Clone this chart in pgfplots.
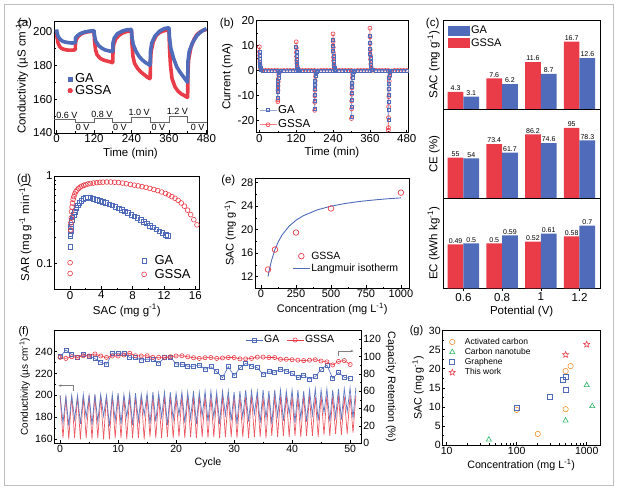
\documentclass[border=0pt]{standalone}
\usepackage{fontspec}
\setmainfont{Liberation Sans}
\usepackage{pgfplots}
\pgfplotsset{compat=1.18}
\usetikzlibrary{plotmarks,arrows.meta}
\definecolor{cblue}{RGB}{79,107,186}
\definecolor{cred}{RGB}{233,60,72}
\definecolor{lblue}{RGB}{150,170,220}
\definecolor{lred}{RGB}{245,130,135}
\definecolor{corange}{RGB}{245,145,50}
\definecolor{cgreen}{RGB}{40,180,100}
\definecolor{bordergray}{RGB}{190,190,190}
\newcommand{\fs}[1]{\fontsize{#1}{#1}\selectfont}
\pgfdeclareplotmark{ostar}{%
  \pgfpathmoveto{\pgfpointpolar{90}{\pgfplotmarksize}}%
  \pgfpathlineto{\pgfpointpolar{126}{0.45\pgfplotmarksize}}%
  \pgfpathlineto{\pgfpointpolar{162}{\pgfplotmarksize}}%
  \pgfpathlineto{\pgfpointpolar{198}{0.45\pgfplotmarksize}}%
  \pgfpathlineto{\pgfpointpolar{234}{\pgfplotmarksize}}%
  \pgfpathlineto{\pgfpointpolar{270}{0.45\pgfplotmarksize}}%
  \pgfpathlineto{\pgfpointpolar{306}{\pgfplotmarksize}}%
  \pgfpathlineto{\pgfpointpolar{342}{0.45\pgfplotmarksize}}%
  \pgfpathlineto{\pgfpointpolar{18}{\pgfplotmarksize}}%
  \pgfpathlineto{\pgfpointpolar{54}{0.45\pgfplotmarksize}}%
  \pgfpathclose\pgfusepathqstroke}
\pgfplotsset{
  every axis/.append style={
    scale only axis, anchor=north west, tick align=inside,
    major tick length=3pt, minor tick length=1.6pt,
    tick label style={font=\fs{11.5}, inner sep=1.5pt},
    label style={font=\fs{11.5}},
    /pgf/number format/assume math mode=true,
    /pgf/number format/1000 sep={},
    xtick pos=bottom, ytick pos=left,
    axis line style={line width=0.7pt},
    every tick/.style={black, line width=0.6pt},
    legend cell align=left,
    legend style={draw=none, fill=none, inner sep=0pt, outer sep=0pt, nodes={inner sep=1pt}},
  },
}
\begin{document}
\begin{tikzpicture}[x=1pt,y=1pt]
\useasboundingbox (0,0) rectangle (619,494);
\draw[bordergray, line width=0.8pt] (4,9) rectangle (613,490);
% panel letters
\node[font=\fs{11.5}] at (25,470.7) {(a)};
\node[font=\fs{11.5}] at (227,470.7) {(b)};
\node[font=\fs{11.5}] at (432.7,470.5) {(c)};
\node[font=\fs{11.5}] at (24.2,314) {(d)};
\node[font=\fs{11.5}] at (228.3,313.5) {(e)};
\node[font=\fs{11}] at (23.7,162.7) {(f)};
\node[font=\fs{11}] at (416.5,163) {(g)};

% ---------------- (a)
\begin{axis}[at={(54pt,473pt)}, width=153pt, height=112pt,
  xmin=-8, xmax=482, ymin=140, ymax=206,
  xtick={0,120,240,360,480}, ytick={140,160,180,200},
  minor x tick num=1, minor y tick num=1,
  xlabel={Time (min)}, ylabel={Conductivity (µS cm\textsuperscript{-1})},
  legend style={at={(rel axis cs:0.09,0.43)}, anchor=west, font=\fs{13}, row sep=-1pt,
    /tikz/every odd column/.append style={column sep=1.5pt}}]
\addlegendimage{only marks, mark=square*, cblue, mark size=2.3pt}
\addlegendentry{GA}
\addlegendimage{only marks, mark=*, cred, mark size=2.4pt}
\addlegendentry{GSSA}
\addplot[gray!80!black, line width=0.7pt, forget plot] coordinates {(-8,147.8)(60,147.8)(60,146)(120,146)(120,148.4)(180,148.4)(180,146)(240,146)(240,149)(300,149)(300,146)(360,146)(360,149.6)(420,149.6)(420,146)(482,146)};
\addplot[cred, line width=3.6pt, forget plot, line join=round] coordinates {
(0,200)(2,196)(5,193)(10,191)(15,190)(20,189.5)(30,189)(40,188.8)(50,188.8)(59,189)
(60,189)(61,193)(63,195)(70,197)(80,198.5)(90,199.2)(100,199.6)(110,199.8)(119,200)
(120,200)(122,194)(125,189)(130,186)(140,184)(150,183)(160,182.5)(170,182)(179,181.5)
(180,181.5)(181,188)(183,192)(190,195.5)(200,197.5)(210,198.8)(220,199.5)(230,200)(239,200.2)
(240,200.2)(242,192)(245,185)(250,181)(260,178)(270,176)(280,174.5)(290,173)(299,172)
(300,172)(301,182)(303,188)(310,194)(320,197.5)(330,199.2)(340,200)(350,200.5)(359,201)
(360,201)(362,190)(365,180)(370,172)(380,167)(390,164.5)(400,163)(410,162)(419,161)
(420,161)(421,175)(423,183)(430,190)(440,195)(450,198)(460,199.5)(470,200.5)(480,201)};
\addplot[cblue, line width=3.6pt, forget plot, line join=round] coordinates {
(0,201)(2,199)(5,197)(10,195.5)(20,194)(30,193.5)(40,193.2)(50,193)(59,193.2)
(60,193.5)(61,196)(65,197)(75,198.5)(90,199.5)(105,200)(119,200.3)
(120,200.3)(122,197)(126,194)(135,191.5)(145,190)(155,189)(165,188.5)(179,188)
(180,188)(181,193)(185,196)(195,198.5)(210,200)(225,200.8)(239,201)
(240,201)(242,196)(246,192)(255,188)(265,185)(275,183)(285,181.5)(299,180)
(300,180)(301,188)(305,193)(315,197)(330,200)(345,201.5)(359,202)
(360,202)(362,196)(366,190)(375,184)(385,179)(395,176)(405,173.5)(419,170)
(420,170)(421,182)(425,188)(435,193)(450,197.5)(465,200)(480,201.5)};
\node[font=\fs{9}] at (axis cs:33,150.6) {0.6 V};
\node[font=\fs{9}] at (axis cs:84,143.4) {0 V};
\node[font=\fs{9}] at (axis cs:145,151.2) {0.8 V};
\node[font=\fs{9}] at (axis cs:203,143.4) {0 V};
\node[font=\fs{9}] at (axis cs:265,151.9) {1.0 V};
\node[font=\fs{9}] at (axis cs:326,143.4) {0 V};
\node[font=\fs{9}] at (axis cs:387,152.5) {1.2 V};
\node[font=\fs{9}] at (axis cs:452,143.4) {0 V};
\end{axis}

% ---------------- (b)
\begin{axis}[at={(256pt,473.3pt)}, width=152pt, height=112pt,
  xmin=-11, xmax=484, ymin=-25, ymax=20,
  xtick={0,120,240,360,480}, ytick={-20,-10,0,10,20},
  minor x tick num=1, minor y tick num=1,
  xlabel={Time (min)}, ylabel={Current (mA)}, reverse legend,
  legend style={at={(rel axis cs:0.02,0.136)}, anchor=west, font=\fs{11.5}, row sep=3pt}]
\addplot[lred, line width=0.9pt, mark=o, mark size=2pt, mark options={cred, line width=0.6pt}] coordinates {
(0,9.5)(0.3,7.5)(0.6,6)(1,4.6)(1.5,3.4)(2,2.5)(3,1.4)(4,0.8)(6,0.3)(10,0.05)(20,0)(30,0)(40,0)(50,0)(59.5,0)
(60,-12.5)(60.3,-11.8)(60.6,-8)(61,-6.2)(61.5,-4.5)(62,-3.3)(63,-1.8)(64,-1)(66,-0.4)(70,-0.07)(80,0)(90,0)(100,0)(110,0)(119.5,0)
(120,11.5)(120.3,9.1)(120.6,7.3)(121,5.6)(121.5,4.1)(122,3)(123,1.7)(124,1)(126,0.4)(130,0.06)(140,0)(150,0)(160,0)(170,0)(179.5,0)
(180,-16)(180.3,-12.8)(180.6,-10.2)(181,-7.9)(181.5,-5.8)(182,-4.2)(183,-2.4)(184,-1.3)(186,-0.5)(190,-0.08)(200,0)(210,0)(220,0)(230,0)(239.5,0)
(240,14.7)(240.3,11.6)(240.6,9.3)(241,7.2)(241.5,5.3)(242,3.9)(243,2.2)(244,1.2)(246,0.45)(250,0.07)(260,0)(270,0)(280,0)(290,0)(299.5,0)
(300,-19.3)(300.3,-15.4)(300.6,-12.3)(301,-9.5)(301.5,-7)(302,-5.1)(303,-2.9)(304,-1.6)(306,-0.6)(310,-0.1)(320,0)(330,0)(340,0)(350,0)(359.5,0)
(360,17)(360.3,13.5)(360.6,10.8)(361,8.3)(361.5,6.1)(362,4.5)(363,2.6)(364,1.4)(366,0.5)(370,0.08)(380,0)(390,0)(400,0)(410,0)(419.5,0)
(420,-24)(420.3,-23)(420.6,-19)(421,-14.5)(421.5,-10.5)(422,-7.5)(423,-4.3)(424,-2.4)(426,-0.9)(430,-0.15)(440,0)(450,0)(460,0)(470,0)(480,0)};
\addlegendentry{GSSA}
\addplot[lblue, line width=1.1pt, mark=square, mark size=1.5pt, mark options={cblue, line width=0.6pt}] coordinates {
(0,7.5)(0.3,5.9)(0.6,4.7)(1,3.6)(1.5,2.7)(2,2)(3,1.1)(4,0.6)(6,0.2)(10,0.04)(20,0)(30,0)(40,0)(50,0)(59.5,0)
(60,-11)(60.3,-8.7)(60.6,-6.9)(61,-5.3)(61.5,-4)(62,-2.9)(63,-1.7)(64,-0.9)(66,-0.3)(70,-0.05)(80,0)(90,0)(100,0)(110,0)(119.5,0)
(120,9.5)(120.3,7.5)(120.6,6)(121,4.6)(121.5,3.4)(122,2.5)(123,1.4)(124,0.8)(126,0.3)(130,0.05)(140,0)(150,0)(160,0)(170,0)(179.5,0)
(180,-15.5)(180.3,-12.2)(180.6,-9.8)(181,-7.4)(181.5,-5.6)(182,-4)(183,-2.3)(184,-1.2)(186,-0.5)(190,-0.08)(200,0)(210,0)(220,0)(230,0)(239.5,0)
(240,12.5)(240.3,9.9)(240.6,7.9)(241,6)(241.5,4.5)(242,3.3)(243,1.9)(244,1)(246,0.4)(250,0.06)(260,0)(270,0)(280,0)(290,0)(299.5,0)
(300,-18.5)(300.3,-14.6)(300.6,-11.7)(301,-8.9)(301.5,-6.7)(302,-4.8)(303,-2.8)(304,-1.5)(306,-0.6)(310,-0.09)(320,0)(330,0)(340,0)(350,0)(359.5,0)
(360,14)(360.3,11.1)(360.6,8.8)(361,6.7)(361.5,5)(362,3.6)(363,2.1)(364,1.1)(366,0.4)(370,0.07)(380,0)(390,0)(400,0)(410,0)(419.5,0)
(420,-20)(420.3,-15.8)(420.6,-12.6)(421,-9.6)(421.5,-7.2)(422,-5.2)(423,-3)(424,-1.6)(426,-0.6)(430,-0.1)(440,0)(450,0)(460,0)(470,0)(480,0)};
\addlegendentry{GA}
\end{axis}

% ---------------- (c) top
\begin{axis}[at={(443.3pt,474pt)}, width=156.7pt, height=89.3pt,
  xmin=-0.52, xmax=3.53, ymin=0, ymax=22, xtick=\empty, ytick=\empty,
  ylabel={SAC (mg g\textsuperscript{-1})},
  ybar=0pt, bar width=15.7pt,
  legend image code/.code={\fill[#1] (0pt,-5pt) rectangle (22pt,5pt);},
  nodes near coords, nodes near coords style={font=\fs{7}, inner sep=1pt, black},
  reverse legend,
  legend style={at={(rel axis cs:0.03,0.808)}, anchor=west, font=\fs{11}, row sep=1.5pt}]
\addplot[fill=cred, draw=none] coordinates {(0,4.3)(1,7.6)(2,11.6)(3,16.7)};
\addlegendentry{GSSA}
\addplot[fill=cblue, draw=none] coordinates {(0,3.1)(1,6.2)(2,8.7)(3,12.6)};
\addlegendentry{GA}
\end{axis}
% (c) middle
\begin{axis}[at={(443.3pt,384.7pt)}, width=156.7pt, height=89.4pt,
  xmin=-0.52, xmax=3.53, ymin=0, ymax=120, xtick=\empty, ytick=\empty,
  ylabel={CE (\%)},
  ybar=0pt, bar width=15.7pt,
  nodes near coords, nodes near coords style={font=\fs{7}, inner sep=1pt, black}]
\addplot[fill=cred, draw=none] coordinates {(0,55)(1,73.4)(2,86.2)(3,95)};
\addplot[fill=cblue, draw=none] coordinates {(0,54)(1,61.7)(2,74.6)(3,78.3)};
\end{axis}
% (c) bottom
\begin{axis}[at={(443.3pt,295.3pt)}, width=156.7pt, height=89.6pt,
  xmin=-0.52, xmax=3.53, ymin=0, ymax=1, xtick={0,1,2,3}, xticklabels={0.6,0.8,1,1.2}, ytick=\empty,
  xlabel={Potential (V)}, ylabel={EC (kWh kg\textsuperscript{-1})},
  ybar=0pt, bar width=15.7pt,
  nodes near coords, nodes near coords style={font=\fs{7}, inner sep=1pt, black}]
\addplot[fill=cred, draw=none] coordinates {(0,0.49)(1,0.5)(2,0.52)(3,0.58)};
\addplot[fill=cblue, draw=none] coordinates {(0,0.5)(1,0.59)(2,0.61)(3,0.7)};
\end{axis}

% ---------------- (d)
\begin{axis}[at={(54.3pt,318pt)}, width=145pt, height=113.3pt,
  xmin=-2, xmax=16.5, ymode=log, ymin=0.05, ymax=1,
  xtick={0,4,8,12,16}, minor x tick num=1, ytick={0.1,1}, yticklabels={0.1,1},
  xlabel={SAC (mg g\textsuperscript{-1})}, ylabel={SAR (mg g\textsuperscript{-1} min\textsuperscript{-1})},
  legend style={at={(rel axis cs:0.603,0.192)}, anchor=west, font=\fs{13}, row sep=1pt,
    /tikz/every odd column/.append style={column sep=7pt}}]
\addplot[only marks, mark=square, mark size=2.3pt, cblue, mark options={line width=0.6pt}] coordinates {
(0.02,0.155)(0.03,0.205)(0.05,0.215)(0.07,0.235)(0.1,0.26)(0.15,0.28)(0.2,0.31)(0.3,0.335)(0.45,0.36)(0.6,0.39)(0.8,0.43)(1.0,0.46)(1.2,0.49)(1.45,0.52)(1.7,0.545)(2.0,0.565)(2.3,0.57)(2.6,0.565)(3.0,0.55)(3.4,0.535)(3.8,0.52)(4.2,0.505)(4.6,0.49)(5.0,0.475)(5.4,0.46)(5.8,0.443)(6.2,0.425)(6.6,0.408)(7.0,0.392)(7.4,0.376)(7.8,0.36)(8.2,0.345)(8.6,0.33)(9.0,0.315)(9.4,0.30)(9.8,0.285)(10.2,0.27)(10.6,0.257)(11.0,0.244)(11.4,0.232)(11.8,0.222)(12.2,0.212)(12.5,0.205)};
\addlegendentry{GA}
\addplot[only marks, mark=o, mark size=2.4pt, cred, mark options={line width=0.6pt}] coordinates {
(0.02,0.076)(0.02,0.101)(0.08,0.24)(0.12,0.29)(0.16,0.33)(0.2,0.39)(0.26,0.44)(0.32,0.49)(0.4,0.54)(0.5,0.58)(0.6,0.62)(0.75,0.66)(0.9,0.69)(1.1,0.72)(1.3,0.745)(1.5,0.765)(1.75,0.78)(2.0,0.795)(2.3,0.81)(2.6,0.82)(3.0,0.83)(3.4,0.838)(3.8,0.845)(4.2,0.85)(4.7,0.853)(5.2,0.852)(5.7,0.848)(6.2,0.84)(6.7,0.83)(7.2,0.815)(7.7,0.80)(8.2,0.785)(8.7,0.77)(9.2,0.755)(9.7,0.74)(10.2,0.72)(10.7,0.70)(11.2,0.68)(11.7,0.655)(12.2,0.63)(12.6,0.605)(13.0,0.58)(13.4,0.555)(13.8,0.525)(14.2,0.49)(14.6,0.45)(15.0,0.405)(15.4,0.36)(15.8,0.315)(16.2,0.275)(16.6,0.25)};
\addlegendentry{GSSA}
\end{axis}

% ---------------- (e)
\begin{axis}[at={(255pt,315.7pt)}, width=154.3pt, height=110pt,
  xmin=-43, xmax=1060, ymin=10, ymax=28.75,
  xtick={0,250,500,750,1000}, ytick={12,16,20,24,28},
  minor x tick num=1, minor y tick num=1,
  tick label style={font=\fs{11}}, label style={font=\fs{11}},
  xlabel={Concentration (mg L\textsuperscript{-1})}, ylabel={SAC (mg g\textsuperscript{-1})},
  legend style={at={(rel axis cs:0.242,0.237)}, anchor=west, font=\fs{10.5}, row sep=1pt}]
\addplot[only marks, mark=o, mark size=2.8pt, cred, mark options={line width=0.7pt}] coordinates {(50,13.2)(100,16.6)(250,19.5)(500,23.6)(1000,26.3)};
\addlegendentry{GSSA}
\addplot[cblue, line width=0.9pt] coordinates {(50,12.0)(60,13.22)(75,14.73)(100,16.62)(125,18.0)(150,19.06)(200,20.57)(250,21.6)(300,22.34)(400,23.35)(500,24.0)(600,24.45)(700,24.79)(800,25.04)(900,25.25)(1000,25.41)};
\addlegendentry{Langmuir isotherm}
\end{axis}

% ---------------- (f) left
\begin{axis}[at={(54.3pt,163.3pt)}, width=307.4pt, height=112.6pt,
  xmin=-1, xmax=52, ymin=156.3, ymax=259,
  xtick={0,10,20,30,40,50}, ytick={160,180,200,220,240},
  minor x tick num=1, minor y tick num=1,
  tick label style={font=\fs{10.5}}, xlabel style={font=\fs{10.7}}, ylabel style={font=\fs{10}},
  xlabel={Cycle}, ylabel={Conductivity (µs cm\textsuperscript{-1})}]
\addplot[cred!85, line width=0.7pt] coordinates {
(0,200)(0.5,161)(1,199)(1.5,160)(2,200)(2.5,161)(3,200)(3.5,160)(4,199)(4.5,161)(5,200)(5.5,160)(6,200)(6.5,161)(7,199)(7.5,160)(8,200)(8.5,160)(9,200)(9.5,161)(10,200)(10.5,161)(11,199)(11.5,160)(12,200)(12.5,161)(13,200)(13.5,161)(14,199)(14.5,160)(15,200)(15.5,162)(16,200)(16.5,161)(17,199)(17.5,161)(18,200)(18.5,162)(19,200)(19.5,161)(20,199)(20.5,162)(21,200)(21.5,161)(22,200)(22.5,162)(23,199)(23.5,161)(24,200)(24.5,162)(25,200)(25.5,161)(26,199)(26.5,162)(27,200)(27.5,161)(28,200)(28.5,162)(29,199)(29.5,162)(30,200)(30.5,161)(31,200)(31.5,162)(32,199)(32.5,161)(33,200)(33.5,162)(34,200)(34.5,162)(35,199)(35.5,161)(36,200)(36.5,163)(37,200)(37.5,162)(38,199)(38.5,163)(39,200)(39.5,162)(40,200)(40.5,163)(41,199)(41.5,162)(42,200)(42.5,163)(43,200)(43.5,163)(44,199)(44.5,162)(45,200)(45.5,164)(46,200)(46.5,163)(47,199)(47.5,165)(48,200)(48.5,164)(49,199)(49.5,165)(50,200)(50.5,166)(51,200)};
\addplot[cblue!90, line width=0.7pt] coordinates {
(0,200)(0.5,175)(1,199)(1.5,172)(2,200)(2.5,178)(3,200)(3.5,174)(4,201)(4.5,180)(5,200)(5.5,173)(6,201)(6.5,176)(7,201)(7.5,181)(8,200)(8.5,172)(9,201)(9.5,177)(10,202)(10.5,174)(11,201)(11.5,180)(12,202)(12.5,173)(13,202)(13.5,177)(14,201)(14.5,182)(15,202)(15.5,174)(16,203)(16.5,176)(17,202)(17.5,180)(18,203)(18.5,173)(19,203)(19.5,178)(20,202)(20.5,182)(21,203)(21.5,175)(22,203)(22.5,179)(23,204)(23.5,174)(24,203)(24.5,181)(25,204)(25.5,176)(26,204)(26.5,180)(27,203)(27.5,174)(28,204)(28.5,182)(29,204)(29.5,177)(30,203)(30.5,174)(31,204)(31.5,180)(32,205)(32.5,176)(33,204)(33.5,183)(34,204)(34.5,175)(35,205)(35.5,179)(36,204)(36.5,174)(37,205)(37.5,181)(38,205)(38.5,177)(39,204)(39.5,183)(40,205)(40.5,175)(41,205)(41.5,179)(42,204)(42.5,176)(43,205)(43.5,182)(44,206)(44.5,177)(45,205)(45.5,184)(46,206)(46.5,176)(47,205)(47.5,180)(48,206)(48.5,178)(49,206)(49.5,185)(50,207)(50.5,179)(51,207)};
\draw[gray, line width=0.6pt, -{Stealth[length=3pt,width=2.5pt]}] (axis cs:2.2,204.3) -- (axis cs:2.2,208.9) -- (axis cs:-0.3,208.9);
\end{axis}
% (f) right
\begin{axis}[at={(54.3pt,163.3pt)}, width=307.4pt, height=112.6pt,
  xmin=-1, xmax=52, ymin=0, ymax=130,
  axis x line=none, axis y line*=right, ytick pos=right,
  ytick={0,20,40,60,80,100,120}, minor y tick num=1,
  tick label style={font=\fs{10.5}}, ylabel style={font=\fs{10.7}, rotate=180},
  ylabel={Capacity Retention (\%)},
  legend columns=2, legend style={at={(rel axis cs:0.622,0.917)}, anchor=west, font=\fs{10.5}, /tikz/every even column/.append style={column sep=6pt}}]
\addplot[cblue, line width=0.6pt, mark=square, mark size=2pt] coordinates {
(0,100)(1,107.6)(2,102.7)(3,99.2)(4,102.7)(5,100.8)(6,97.7)(7,93.5)(8,91.2)(9,103.9)(10,103.9)(11,103.9)(12,98.9)(13,98.9)(14,96.2)(15,97)(16,97)(17,92.3)(18,98.9)(19,99.6)(20,91.6)(21,91.2)(22,88.9)(23,88.9)(24,90.4)(25,85.4)(26,88.4)(27,82.6)(28,75.7)(29,88.4)(30,78)(31,87.2)(32,92.2)(33,89.1)(34,87.2)(35,79.5)(36,82.6)(37,82)(38,85.6)(39,83.4)(40,80.7)(41,75.7)(42,78.8)(43,74.2)(44,76.9)(45,85.3)(46,90.3)(47,74.9)(48,81.8)(49,76.1)(50,74.9)};
\addlegendentry{GA}
\addplot[cred, line width=0.6pt, mark=o, mark size=2.1pt] coordinates {
(0,99.2)(1,98)(2,99.9)(3,99.2)(4,101.1)(5,100.8)(6,103.1)(7,100.8)(8,99.2)(9,100.8)(10,100.8)(11,101.9)(12,103.9)(13,101.1)(14,100.8)(15,101.1)(16,99.2)(17,99.2)(18,99.2)(19,99.9)(20,100.8)(21,101.1)(22,99.9)(23,98.8)(24,98)(25,98.8)(26,99)(27,98)(28,98.5)(29,99)(30,99)(31,97.5)(32,97.5)(33,98)(34,99.5)(35,99.5)(36,99)(37,99)(38,97)(39,97)(40,96.5)(41,96)(42,95.5)(43,96)(44,96.5)(45,95)(46,94)(47,90.5)(48,94.5)(49,95.5)(50,91)};
\addlegendentry{GSSA}
\draw[gray, line width=0.6pt, -{Stealth[length=3pt,width=2.5pt]}] (axis cs:48,100.7) -- (axis cs:48,106.5) -- (axis cs:50.6,106.5);
\end{axis}

% ---------------- (g)
\begin{axis}[at={(442.3pt,163.3pt)}, width=157.7pt, height=114.3pt,
  xmode=log, xmin=8.65, xmax=1550, ymin=0, ymax=30,
  xtick={10,100,1000}, xticklabels={10,100,1000}, ytick={0,5,10,15,20,25,30}, minor y tick num=1,
  tick label style={font=\fs{10.5}}, label style={font=\fs{10.7}},
  xlabel={Concentration (mg L\textsuperscript{-1})}, ylabel={SAC (mg g\textsuperscript{-1})},
  legend style={at={(rel axis cs:0.044,0.768)}, anchor=west, font=\fs{8.5}, row sep=0.5pt,
    /tikz/every odd column/.append style={column sep=8.5pt}}]
\addplot[only marks, mark=o, mark size=2.7pt, corange, mark options={line width=0.6pt}] coordinates {(100,9.2)(200,2.9)(500,19.4)(500,9.4)(590,20.7)};
\addlegendentry{Activated carbon}
\addplot[only marks, mark=triangle, mark size=3pt, cgreen, mark options={line width=0.6pt}] coordinates {(40,1.4)(500,6.4)(1000,15.7)(1200,10.2)};
\addlegendentry{Carbon nanotube}
\addplot[only marks, mark=square, mark size=2.5pt, cblue, mark options={line width=0.6pt}] coordinates {(100,9.8)(300,12.6)(460,17.0)(500,17.9)(500,14.4)};
\addlegendentry{Graphene}
\addplot[only marks, mark=ostar, mark size=3.2pt, cred, mark options={line width=0.6pt, line join=miter}] coordinates {(500,23.7)(1000,26.4)};
\addlegendentry{This work}
\end{axis}
\end{tikzpicture}
\end{document}
